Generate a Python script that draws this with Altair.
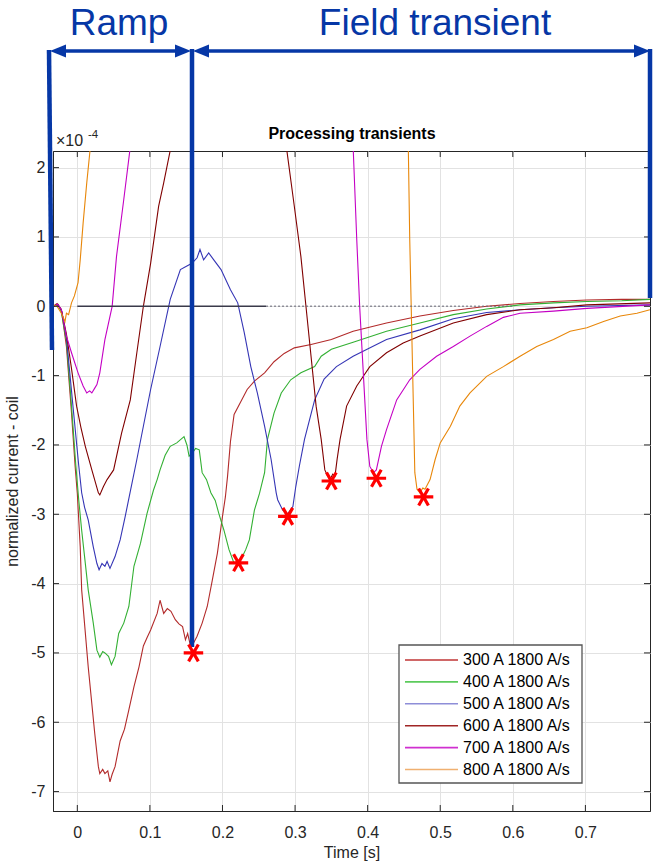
import altair as alt
import pandas as pd

# ---------------- data (values in units of 1e-4) ----------------
labels = ["300 A 1800 A/s", "400 A 1800 A/s", "500 A 1800 A/s",
          "600 A 1800 A/s", "700 A 1800 A/s", "800 A 1800 A/s"]
colors = ["#B22A2A", "#33B033", "#3535B5", "#800000", "#C400C4", "#E8870A"]
legend_colors = ["#C03535", "#5CCB5C", "#8E8ED8", "#A02525", "#D030D0", "#F0B070"]

t300 = [-0.033, -0.028, -0.022, -0.015, -0.008, -0.003, 0.0, 0.004, 0.006, 0.015, 0.024, 0.029, 0.031, 0.035,
        0.038, 0.042, 0.045, 0.048, 0.052, 0.059, 0.065, 0.071, 0.078, 0.085, 0.091, 0.096, 0.101, 0.110, 0.114,
        0.119, 0.124, 0.129, 0.135, 0.140, 0.145, 0.149, 0.152, 0.156, 0.160, 0.165, 0.172, 0.179, 0.186, 0.193,
        0.200, 0.204, 0.207, 0.211, 0.216, 0.225, 0.234, 0.244, 0.258, 0.271, 0.285, 0.299, 0.322, 0.350, 0.380,
        0.426, 0.472, 0.518, 0.564, 0.610, 0.656, 0.702, 0.750, 0.789]
v300 = [0.0, 0.04, -0.05, -0.58, -1.54, -2.31, -2.70, -3.47, -4.09, -5.20, -6.16, -6.64, -6.74, -6.68,
        -6.74, -6.70, -6.86, -6.75, -6.64, -6.27, -6.10, -5.82, -5.49, -5.20, -4.90, -4.78, -4.67, -4.43, -4.24,
        -4.43, -4.36, -4.40, -4.52, -4.58, -4.62, -4.81, -4.72, -4.90, -4.86, -4.76, -4.57, -4.33, -3.95, -3.56,
        -3.03, -2.75, -2.45, -1.95, -1.56, -1.38, -1.20, -1.08, -0.96, -0.80, -0.68, -0.60, -0.55, -0.48, -0.36,
        -0.24, -0.14, -0.06, 0.0, 0.04, 0.07, 0.09, 0.10, 0.10]

t400 = [-0.033, -0.027, -0.022, -0.015, -0.008, -0.002, 0.002, 0.006, 0.010, 0.015, 0.022, 0.027, 0.031, 0.035,
        0.038, 0.043, 0.047, 0.052, 0.057, 0.064, 0.071, 0.078, 0.087, 0.096, 0.105, 0.110, 0.114, 0.121, 0.128,
        0.137, 0.147, 0.151, 0.154, 0.158, 0.163, 0.168, 0.172, 0.178, 0.184, 0.190, 0.195, 0.202, 0.209, 0.216,
        0.220, 0.225, 0.232, 0.237, 0.244, 0.251, 0.258, 0.262, 0.271, 0.281, 0.294, 0.308, 0.327, 0.336, 0.350,
        0.380, 0.426, 0.472, 0.518, 0.564, 0.610, 0.656, 0.702, 0.750, 0.789]
v400 = [0.0, 0.03, -0.08, -0.50, -1.44, -2.30, -2.80, -3.23, -3.61, -4.09, -4.57, -4.96, -5.06, -4.98,
        -5.00, -5.05, -5.17, -5.05, -4.72, -4.57, -4.33, -3.75, -3.42, -2.99, -2.65, -2.50, -2.36, -2.15, -2.02,
        -1.97, -1.88, -2.00, -2.16, -2.12, -2.05, -2.07, -2.40, -2.50, -2.69, -2.80, -2.99, -3.23, -3.51, -3.71,
        -3.68, -3.66, -3.51, -3.37, -2.94, -2.70, -2.40, -1.92, -1.54, -1.25, -1.06, -0.96, -0.87, -0.72, -0.62,
        -0.52, -0.36, -0.24, -0.12, -0.04, 0.02, 0.05, 0.07, 0.08, 0.10]

t500 = [-0.033, -0.027, -0.022, -0.015, -0.006, 0.002, 0.006, 0.010, 0.015, 0.022, 0.027, 0.030, 0.034, 0.038,
        0.041, 0.045, 0.052, 0.059, 0.066, 0.073, 0.082, 0.091, 0.101, 0.114, 0.128, 0.142, 0.151, 0.158, 0.165,
        0.169, 0.174, 0.181, 0.188, 0.198, 0.211, 0.221, 0.230, 0.239, 0.248, 0.258, 0.267, 0.274, 0.276, 0.283,
        0.290, 0.297, 0.301, 0.306, 0.313, 0.327, 0.340, 0.357, 0.380, 0.426, 0.472, 0.518, 0.564, 0.610, 0.656,
        0.702, 0.789]
v500 = [0.0, 0.02, -0.05, -0.45, -1.44, -2.30, -2.69, -2.90, -3.08, -3.47, -3.71, -3.80, -3.71, -3.75,
        -3.68, -3.78, -3.61, -3.37, -3.03, -2.67, -2.21, -1.73, -1.20, -0.58, 0.10, 0.53, 0.58, 0.62, 0.70,
        0.82, 0.67, 0.77, 0.67, 0.53, 0.24, 0.05, -0.38, -0.87, -1.25, -1.73, -2.21, -2.69, -2.79, -2.94,
        -2.99, -2.89, -2.60, -2.30, -1.92, -1.35, -1.05, -0.87, -0.72, -0.48, -0.34, -0.18, -0.09, -0.05, -0.02,
        0.0, 0.02]

# 600, 700, 800 A leave the top of the plot and come back: two segments each
t600a = [-0.033, -0.027, -0.022, -0.015, -0.008, -0.001, 0.005, 0.011, 0.020, 0.029, 0.031, 0.036, 0.041,
         0.050, 0.061, 0.073, 0.082, 0.091, 0.101, 0.112, 0.119, 0.129]
v600a = [0.0, 0.03, -0.05, -0.40, -0.90, -1.44, -1.75, -2.02, -2.36, -2.69, -2.72, -2.60, -2.50,
         -2.36, -1.83, -1.35, -0.67, 0.0, 0.62, 1.44, 1.78, 2.30]
t600b = [0.288, 0.299, 0.308, 0.315, 0.322, 0.329, 0.336, 0.341, 0.345, 0.348, 0.352, 0.355, 0.358, 0.362,
         0.371, 0.385, 0.394, 0.403, 0.426, 0.449, 0.472, 0.518, 0.564, 0.610, 0.656, 0.702, 0.789]
v600b = [2.30, 1.44, 0.72, 0.0, -0.72, -1.44, -1.92, -2.36, -2.45, -2.50, -2.42, -2.45, -2.20, -1.92,
         -1.44, -1.15, -1.01, -0.87, -0.67, -0.53, -0.43, -0.24, -0.12, -0.05, -0.02, 0.02, 0.05]

t700a = [-0.033, -0.027, -0.022, -0.015, -0.008, 0.001, 0.008, 0.013, 0.017, 0.020, 0.024, 0.027, 0.031,
         0.038, 0.048, 0.054, 0.064, 0.073]
v700a = [0.0, 0.03, -0.05, -0.43, -0.67, -0.96, -1.15, -1.25, -1.22, -1.25, -1.18, -1.13, -0.96,
         -0.48, 0.0, 0.72, 1.54, 2.30]
t700b = [0.380, 0.385, 0.389, 0.394, 0.399, 0.403, 0.408, 0.412, 0.419, 0.426, 0.440, 0.458, 0.472, 0.495,
         0.518, 0.541, 0.564, 0.587, 0.610, 0.656, 0.702, 0.789]
v700b = [2.30, 0.96, 0.0, -0.96, -1.92, -2.31, -2.40, -2.36, -2.02, -1.78, -1.35, -1.06, -0.91, -0.72,
         -0.58, -0.43, -0.29, -0.16, -0.10, -0.07, -0.03, 0.02]

t800a = [-0.033, -0.028, -0.022, -0.017, -0.015, -0.012, -0.008, -0.004, 0.001, 0.004, 0.008, 0.013, 0.018]
v800a = [0.02, 0.0, -0.10, -0.22, -0.10, -0.12, 0.05, 0.15, 0.34, 0.67, 1.20, 1.78, 2.30]
t800b = [0.456, 0.458, 0.461, 0.463, 0.465, 0.468, 0.472, 0.476, 0.479, 0.486, 0.493, 0.500, 0.514, 0.527,
         0.541, 0.564, 0.587, 0.610, 0.633, 0.656, 0.679, 0.702, 0.725, 0.748, 0.771, 0.789]
v800b = [2.30, 0.96, -0.48, -1.44, -2.40, -2.64, -2.69, -2.62, -2.64, -2.50, -2.21, -1.97, -1.73, -1.44,
         -1.25, -1.01, -0.87, -0.72, -0.58, -0.48, -0.36, -0.31, -0.22, -0.14, -0.10, -0.05]

# minima markers
min_t = [0.160, 0.222, 0.290, 0.350, 0.412, 0.477]
min_v = [-5.00, -3.70, -3.03, -2.52, -2.48, -2.75]

# zero reference line
zero_solid_t = [0.0, 0.26]
zero_dot_t = [0.26, 0.60]

x_ticks = [0, 0.1, 0.2, 0.3, 0.4, 0.5, 0.6, 0.7]
y_ticks = [-7, -6, -5, -4, -3, -2, -1, 0, 1, 2]
x_domain = [-0.0335, 0.789]
y_domain = [-7.28, 2.24]

# ---------------- build tables ----------------
segments = [
    (labels[0], "a", t300, v300), (labels[1], "a", t400, v400), (labels[2], "a", t500, v500),
    (labels[3], "a", t600a, v600a), (labels[3], "b", t600b, v600b),
    (labels[4], "a", t700a, v700a), (labels[4], "b", t700b, v700b),
    (labels[5], "a", t800a, v800a), (labels[5], "b", t800b, v800b),
]
rows = []
for name, seg, ts, vs in segments:
    for t, v in zip(ts, vs):
        rows.append({"t": t, "v": v, "series": name, "seg": name + seg})
curves = pd.DataFrame(rows)
mins = pd.DataFrame({"t": min_t, "v": min_v})
zero_solid = pd.DataFrame({"t": zero_solid_t, "v": [0, 0]})
zero_dot = pd.DataFrame({"t": zero_dot_t, "v": [0, 0]})
xt = pd.DataFrame({"t": x_ticks})
yt = pd.DataFrame({"v": y_ticks})
dummy = pd.DataFrame({"a": [0]})

W, H = 597, 660
FONT = "Liberation Sans"
BLUE = "#0637A6"
AXC = "#262626"

xscale = alt.Scale(domain=x_domain, nice=False, zero=False)
yscale = alt.Scale(domain=y_domain, nice=False, zero=False)

x_axis = alt.Axis(values=x_ticks, title="Time [s]", grid=True, gridColor="#e2e2e2",
                  tickSize=0, labelPadding=13, labelFontSize=16, labelColor=AXC, labelFont=FONT,
                  labelExpr="datum.value == 0 ? '0' : format(datum.value, '.1f')",
                  titleFont=FONT, titleFontSize=16, titleFontWeight="normal", titleColor=AXC,
                  titlePadding=4, domainColor=AXC, labelFlush=False)
y_axis = alt.Axis(values=y_ticks, title="normalized current - coil", grid=True, gridColor="#e2e2e2",
                  tickSize=0, labelPadding=8, labelFontSize=16, labelColor=AXC, labelFont=FONT,
                  labelExpr="datum.value < 0 ? '-' + abs(datum.value) : '' + datum.value",
                  titleFont=FONT, titleFontSize=16, titleFontWeight="normal", titleColor=AXC,
                  titlePadding=10, domainColor=AXC, labelFlush=False)

X = alt.X("t:Q", scale=xscale, axis=x_axis)
Y = alt.Y("v:Q", scale=yscale, axis=y_axis)

lines = alt.Chart(curves).mark_line(strokeWidth=1.1, clip=True).encode(
    x=X, y=Y,
    color=alt.Color("series:N", scale=alt.Scale(domain=labels, range=colors), legend=None),
    detail="seg:N",
)

zline1 = alt.Chart(zero_solid).mark_line(color="#3a3a4a", strokeWidth=1.6).encode(x=X, y=Y)
zline2 = alt.Chart(zero_dot).mark_line(color="#6a6a78", strokeWidth=1.6, strokeDash=[2, 2], opacity=0.7).encode(
    x=X, y=Y)

# inward ticks (MATLAB box style)
tick_bot = alt.Chart(xt).mark_rule(color=AXC).encode(x=X, y=alt.value(H), y2=alt.value(H - 6))
tick_top = alt.Chart(xt).mark_rule(color=AXC).encode(x=X, y=alt.value(0), y2=alt.value(6))
tick_left = alt.Chart(yt).mark_rule(color=AXC).encode(y=Y, x=alt.value(0), x2=alt.value(6))
tick_right = alt.Chart(yt).mark_rule(color=AXC).encode(y=Y, x=alt.value(W), x2=alt.value(W - 6))

# annotation (pixel positions relative to plot origin)
def brule(x1, y1, x2, y2, w=4.5):
    return alt.Chart(dummy).mark_rule(color=BLUE, strokeWidth=w).encode(
        x=alt.value(x1), y=alt.value(y1), x2=alt.value(x2), y2=alt.value(y2))

ARROW_Y = -100
ann = [
    brule(-4, -101, -1, 199),
    brule(139, -102, 139, 496),
    brule(597, -102, 597, 147),
    brule(2, ARROW_Y, 132, ARROW_Y, 3.5),
    brule(152, ARROW_Y, 590, ARROW_Y, 3.5),
]
head_path = "M-1,0L1,-0.8L1,0.8Z"
head_path_r = "M1,0L-1,-0.8L-1,0.8Z"
for cx, p in [(5, head_path), (130, head_path_r), (148, head_path), (589, head_path_r)]:
    ann.append(alt.Chart(dummy).mark_point(shape=p, filled=True, color=BLUE, size=256, opacity=1).encode(
        x=alt.value(cx), y=alt.value(ARROW_Y)))

def txt(s, x, y, size, color=AXC, weight="normal", align="left", baseline="alphabetic"):
    return alt.Chart(dummy).mark_text(text=s, font=FONT, fontSize=size, color=color, fontWeight=weight,
                                      align=align, baseline=baseline).encode(x=alt.value(x), y=alt.value(y))

texts = [
    txt("Ramp", 66, -116, 37, BLUE, align="center"),
    txt("Field transient", 382, -116, 37, BLUE, align="center"),
    txt("Processing transients", 299, -12, 16, "#000000", "bold", align="center"),
    txt("×10", 3, -5, 16),
    txt("-4", 35, -13, 11.5),
]

markers = alt.Chart(mins).mark_point(
    shape="M-1,0L1,0M-0.5,-0.87L0.5,0.87M-0.5,0.87L0.5,-0.87",
    filled=False, color="#FF0000", strokeWidth=3.2, size=380, opacity=1).encode(x=X, y=Y)

# manual legend
LX, LY, LW, LH = 346, 494, 183, 138
legend = [alt.Chart(dummy).mark_rect(fill="white", stroke="#555555", strokeWidth=1.3).encode(
    x=alt.value(LX), y=alt.value(LY), x2=alt.value(LX + LW), y2=alt.value(LY + LH))]
for i, (name, col) in enumerate(zip(labels, legend_colors)):
    yy = LY + 15 + 21.9 * i
    legend.append(alt.Chart(dummy).mark_rule(color=col, strokeWidth=1.6).encode(
        x=alt.value(LX + 6), x2=alt.value(LX + 59), y=alt.value(yy)))
    legend.append(txt(name, LX + 64, yy, 16, "#000000", baseline="middle"))

chart = alt.layer(
    lines, zline1, zline2, tick_bot, tick_top, tick_left, tick_right,
    *ann, markers, *legend, *texts
).properties(
    width=W, height=H,
    autosize=alt.AutoSizeParams(type="none"),
    padding={"left": 53, "top": 151, "right": 4, "bottom": 51},
    background="white",
).configure_view(stroke=AXC, strokeWidth=1)

chart.save("out.html", embed_options={"renderer": "svg", "actions": False})
